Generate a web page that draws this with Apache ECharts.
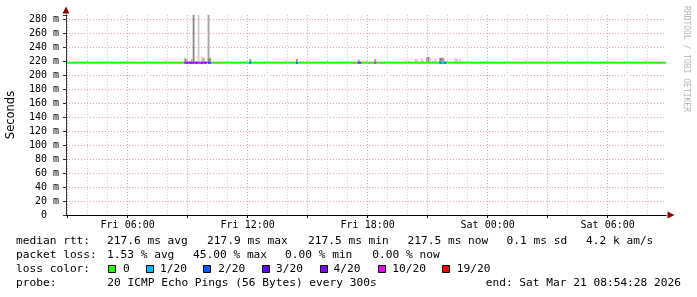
<!DOCTYPE html>
<html><head><meta charset="utf-8">
<script src="https://cdn.jsdelivr.net/npm/echarts@6/dist/echarts.min.js"></script>
<style>html,body{margin:0;padding:0;background:#fff}#c{width:697px;height:297px}</style>
</head><body><div id="c"></div>
<script>
// ---------------- data ----------------
const MEDIAN = 217.6;                 // ms
const Y_MAX = 285.714;                // ms (top of plot)
const medianRtt = [['Fri 02:55', 217.6], ['Sat 08:55', 217.6]];
const xTickLabels = ['Fri 06:00', 'Fri 12:00', 'Fri 18:00', 'Sat 00:00', 'Sat 06:00'];
// loss events: [time, lost pings of 20]
const lossEvents = [
  ['Fri 08:50', 10], ['Fri 08:55', 4], ['Fri 09:00', 10], ['Fri 09:05', 3],
  ['Fri 09:10', 10], ['Fri 09:15', 4], ['Fri 09:20', 10], ['Fri 09:25', 3],
  ['Fri 09:30', 10], ['Fri 09:35', 10], ['Fri 09:40', 4], ['Fri 09:45', 10],
  ['Fri 09:50', 3], ['Fri 09:55', 10], ['Fri 10:00', 4], ['Fri 10:05', 2],
  ['Fri 12:05', 2], ['Fri 14:25', 2], ['Fri 17:30', 2], ['Fri 17:35', 10],
  ['Fri 18:20', 10], ['Fri 21:35', 2], ['Fri 21:40', 1], ['Fri 21:45', 1], ['Fri 21:50', 2]
];
// smoke (ping spread above median): [time, highest ms, density 1=light 2=mid 3=dark]
const smokeEvents = [
  ['Fri 08:50', 223.8, 3], ['Fri 08:55', 222.0, 2],
  ['Fri 09:10', 222.4, 2], ['Fri 09:15', 400, 3], ['Fri 09:30', 400, 1],
  ['Fri 09:40', 226.0, 1], ['Fri 09:45', 224.5, 2],
  ['Fri 10:00', 400, 2], ['Fri 10:00', 224.0, 3], ['Fri 10:05', 224.0, 3],
  ['Fri 12:05', 222.4, 3], ['Fri 14:25', 222.4, 3], ['Fri 17:30', 222.4, 2],
  ['Fri 18:20', 222.5, 3],
  ['Fri 20:20', 222.4, 1], ['Fri 20:25', 222.4, 1], ['Fri 20:40', 224.0, 1],
  ['Fri 20:55', 225.0, 2], ['Fri 21:00', 226.0, 3], ['Fri 21:05', 225.0, 1],
  ['Fri 21:20', 223.5, 1],
  ['Fri 21:35', 224.7, 3], ['Fri 21:40', 224.7, 3], ['Fri 21:45', 224.0, 2],
  ['Fri 22:20', 223.5, 1], ['Fri 22:25', 223.0, 1], ['Fri 22:35', 222.5, 1]
];
const lossLevels = [0, 1, 2, 3, 4, 10, 19];
const lossLegend = ['0', '1/20', '2/20', '3/20', '4/20', '10/20', '19/20'];
const medianStats = ['217.6 ms avg', '217.9 ms max', '217.5 ms min', '217.5 ms now', '0.1 ms sd', '4.2 k am/s'];
const lossStats = ['1.53 % avg', '45.00 % max', '0.00 % min', '0.00 % now'];
const probeText = '20 ICMP Echo Pings (56 Bytes) every 300s';
const endText = 'end: Sat Mar 21 08:54:28 2026';

// ---------------- styles ----------------
const lossColors = ['#26ff00', '#00b8ff', '#0059ff', '#5e00ff', '#7e00ff', '#dd00ff', '#ff0000'];
const smokeShade = {1: '#cdcdcd', 2: '#a8a8a8', 3: '#8a8a8a'};
const START_MIN = 175, STEP = 5, END_MIN = 1975;
const pad = n => (n < 10 ? '0' : '') + n;
const timeCats = [];
for (let m = START_MIN; m <= END_MIN; m += STEP) {
  const mm = m % 1440;
  timeCats.push((m >= 1440 ? 'Sat' : 'Fri') + ' ' + pad(Math.floor(mm / 60)) + ':' + pad(mm % 60));
}
const minOf = i => START_MIN + STEP * i;
function lossColor(n) {
  let idx = 0;
  lossLevels.forEach((l, k) => { if (n >= l) idx = k; });
  return lossColors[idx];
}

const monoAxis = {fontFamily: 'DejaVu Sans Mono', fontSize: 10, color: '#000'};
const minorGrid = {color: '#d0d0d0', type: [1, 2], width: 1};
const majorGrid = {color: '#e6a0a0', type: [1, 2], width: 1};

const chart = echarts.init(document.getElementById('c'), null, {renderer: 'canvas'});

const legendFont = '11.2px "DejaVu Sans Mono"';
const T = (x, y, s, align) => ({type: 'text', x, y, silent: true,
  style: {text: s, font: legendFont, fill: '#000', align: align || 'left', verticalAlign: 'middle'}});
const graphics = [];
graphics.push(T(16, 241, 'median rtt:'));
[107, 207, 308, 407.5, 506.5, 586].forEach((x, k) => graphics.push(T(x, 241, medianStats[k])));
graphics.push(T(16, 255, 'packet loss:'));
[107, 193, 285, 372.3].forEach((x, k) => graphics.push(T(x, 255, lossStats[k])));
graphics.push(T(16, 269, 'loss color:'));
const boxX = [108, 146, 203.3, 261.7, 320, 377.7, 442.3];
const boxLabelX = [123, 160, 218.3, 276, 333.5, 392.3, 456.7];
boxX.forEach((x, k) => {
  graphics.push({type: 'rect', silent: true,
    shape: {x: Math.round(x) + 0.5, y: 265.5, width: 7, height: 7},
    style: {fill: lossColors[k], stroke: '#000', lineWidth: 1}});
  graphics.push(T(boxLabelX[k], 269, lossLegend[k]));
});
graphics.push(T(16, 283, 'probe:'));
graphics.push(T(107.3, 283, probeText));
graphics.push(T(681, 283, endText, 'right'));
graphics.push({type: 'text', x: 686, y: 59, rotation: -Math.PI / 2, silent: true,
  style: {text: 'RRDTOOL / TOBI OETIKER', font: '8px "DejaVu Sans Mono"', fill: '#b4b4b4',
    align: 'center', verticalAlign: 'middle'}});

const option = {
  backgroundColor: '#ffffff',
  animation: false,
  grid: {left: 66, top: 15, width: 600, height: 200, containLabel: false, outerBoundsMode: 'none'},
  xAxis: [
    {
      type: 'category', data: timeCats, boundaryGap: false, position: 'bottom', z: 5,
      axisLine: {show: true, lineStyle: {color: '#000', width: 1}},
      axisTick: {show: false},
      axisLabel: {show: true, interval: (i, v) => xTickLabels.includes(v), margin: 5, ...monoAxis},
      splitLine: {show: true, interval: i => minOf(i) % 60 === 0 && minOf(i) % 180 !== 0, lineStyle: minorGrid}
    },
    {
      type: 'category', data: timeCats, boundaryGap: false, position: 'bottom', z: 4,
      axisLine: {show: true, symbol: ['none', 'triangle'], symbolSize: [7, 7], symbolOffset: [0, 5],
        lineStyle: {color: '#8b0000', width: 1}},
      axisTick: {show: true, interval: i => minOf(i) % 180 === 0, length: 3, lineStyle: {color: '#000'}},
      axisLabel: {show: false},
      splitLine: {show: true, interval: i => minOf(i) % 180 === 0, lineStyle: majorGrid}
    }
  ],
  yAxis: [
    {
      type: 'value', min: 0, max: Y_MAX, interval: 20, position: 'left', z: 5,
      name: 'Seconds', nameLocation: 'middle', nameGap: 49,
      nameTextStyle: {fontFamily: 'DejaVu Sans', fontSize: 11.5, color: '#000'},
      axisLine: {show: true, lineStyle: {color: '#333', width: 1}},
      axisTick: {show: true, length: 3, lineStyle: {color: '#333'}},
      axisLabel: {margin: 7, ...monoAxis,
        formatter: v => v === 0 ? '0  ' : (Math.abs(v % 20) < 1e-6 ? v + ' m' : '')},
      splitLine: {show: true, showMaxLine: false, lineStyle: majorGrid}
    },
    {
      type: 'value', min: 0, max: Y_MAX, interval: 10, position: 'left', z: 4,
      axisLine: {show: true, symbol: ['none', 'triangle'], symbolSize: [7, 7], symbolOffset: [0, 5],
        lineStyle: {color: '#8b0000', width: 1}},
      axisTick: {show: false},
      axisLabel: {show: false},
      splitLine: {show: true, showMaxLine: false, lineStyle: {...minorGrid, color: ['#d0d0d0', 'rgba(0,0,0,0)']}}
    }
  ],
  series: [
    {
      type: 'custom', name: 'smoke', xAxisIndex: 0, yAxisIndex: 0, clip: true, z: 2,
      data: smokeEvents.map(e => [e[0], MEDIAN, e[1], e[2]]),
      encode: {x: 0, y: [1, 2]},
      renderItem: (params, api) => {
        const i = api.value(0);
        const hi = Math.min(api.value(2), Y_MAX);
        const p0 = api.coord([i, api.value(1)]);
        const p1 = api.coord([i, hi]);
        const w = api.size([1, 0])[0];
        return {type: 'rect', shape: {x: p0[0], y: p1[1], width: w + 0.2, height: p0[1] - p1[1]},
          style: {fill: smokeShade[api.value(3)]}};
      }
    },
    {
      type: 'line', name: 'median', xAxisIndex: 0, yAxisIndex: 0, z: 3,
      data: medianRtt, symbol: 'none', lineStyle: {color: lossColors[0], width: 2}
    },
    {
      type: 'custom', name: 'loss', xAxisIndex: 0, yAxisIndex: 0, z: 4,
      data: lossEvents.map(e => [e[0], e[1]]),
      encode: {x: 0, y: 1},
      renderItem: (params, api) => {
        const i = api.value(0);
        const p = api.coord([i, MEDIAN]);
        const w = api.size([1, 0])[0];
        return {type: 'rect', shape: {x: p[0], y: p[1] - 1, width: w + 0.2, height: 2},
          style: {fill: lossColor(api.value(1))}};
      }
    }
  ],
  graphic: graphics
};
chart.setOption(option);
</script>
</body></html>
